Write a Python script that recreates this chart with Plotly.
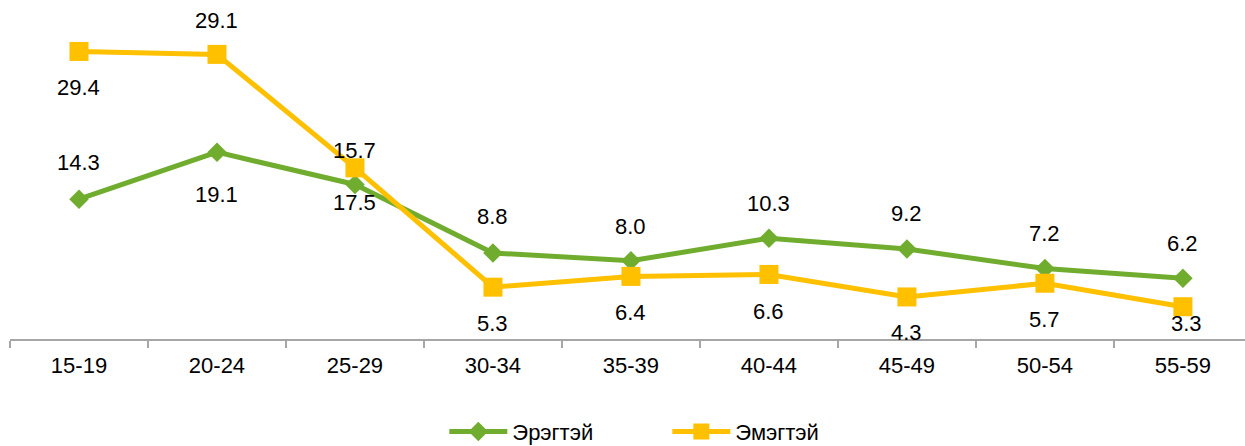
import plotly.graph_objects as go

categories = ["15-19", "20-24", "25-29", "30-34", "35-39", "40-44", "45-49", "50-54", "55-59"]
male_values = [14.3, 19.1, 15.8, 8.8, 8.0, 10.3, 9.2, 7.2, 6.2]
female_values = [29.4, 29.1, 17.5, 5.3, 6.4, 6.6, 4.3, 5.7, 3.3]
male_labels = ["14.3", "19.1", "17.5", "8.8", "8.0", "10.3", "9.2", "7.2", "6.2"]
female_labels = ["29.4", "29.1", "15.7", "5.3", "6.4", "6.6", "4.3", "5.7", "3.3"]

# label placement (pixel shifts, style only)
male_shift = [37, -42, -18, 36, 34, 35, 36, 35, 35]
female_shift = [-36, 34, 17, -36, -36, -37, -36, -36, -17]

GREEN = "#70AD2F"
YELLOW = "#FFC000"
FONT = "Liberation Sans, Arial, sans-serif"
FS = 22

fig = go.Figure()
fig.add_trace(go.Scatter(
    x=categories, y=male_values, name="Эрэгтэй", mode="lines+markers",
    line=dict(color=GREEN, width=5),
    marker=dict(symbol="diamond", size=15, color=GREEN),
))
fig.add_trace(go.Scatter(
    x=categories, y=female_values, name="Эмэгтэй", mode="lines+markers",
    line=dict(color=YELLOW, width=5),
    marker=dict(symbol="square", size=19, color=YELLOW),
))

for cat, v, t, s in zip(categories, male_values, male_labels, male_shift):
    fig.add_annotation(x=cat, y=v, text=t, showarrow=False, yshift=s,
                       font=dict(family=FONT, size=FS, color="#000000"))
for i, (cat, v, t, s) in enumerate(zip(categories, female_values, female_labels, female_shift)):
    fig.add_annotation(x=cat, y=v, text=t, showarrow=False, yshift=s,
                       xshift=4 if i == 8 else 0,
                       font=dict(family=FONT, size=FS, color="#000000"))

fig.update_layout(
    width=1245, height=446,
    margin=dict(l=10, r=0, t=0, b=107, autoexpand=False),
    paper_bgcolor="white", plot_bgcolor="white",
    font=dict(family=FONT, size=FS, color="#000000"),
    showlegend=True,
    legend=dict(orientation="h", x=0.536, xanchor="center", xref="container",
                y=0.032, yanchor="middle", yref="container",
                itemwidth=58, entrywidth=150, entrywidthmode="pixels",
                font=dict(family=FONT, size=FS, color="#000000"),
                tracegroupgap=0, itemsizing="trace", bgcolor="rgba(0,0,0,0)"),
    xaxis=dict(type="category", range=[-0.5, 8.45], showgrid=False, zeroline=False,
               showline=True, linecolor="#A6A6A6", linewidth=2,
               ticks="outside", tickson="boundaries", ticklen=7, tickcolor="#A6A6A6",
               tickwidth=2, ticklabelstandoff=6, automargin=False,
               tickfont=dict(family=FONT, size=FS, color="#000000")),
    yaxis=dict(range=[0, 34.66], visible=False, showgrid=False, zeroline=False),
)

fig.write_html("out.html", config={"displayModeBar": False},
               post_script="document.body.style.margin='0px';")
